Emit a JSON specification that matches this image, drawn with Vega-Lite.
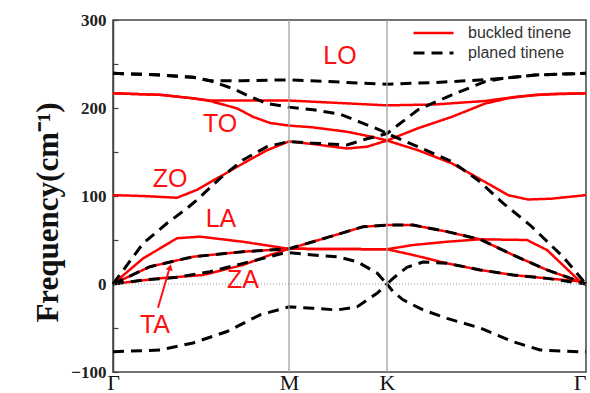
{
  "$schema": "https://vega.github.io/schema/vega-lite/v6.json",
  "width": 473,
  "height": 352,
  "autosize": {"type": "none"},
  "padding": {"left": 113, "top": 20, "right": 4, "bottom": 21},
  "background": "white",
  "config": {
    "view": {"stroke": "#444", "strokeWidth": 1.5},
    "axis": {"grid": false}
  },
  "layer": [
    {
      "data": {"values": [
        {"s":"buckled tinene","b":"B1","x":0,"f":216.7},{"s":"buckled tinene","b":"B1","x":47,"f":215},{"s":"buckled tinene","b":"B1","x":80,"f":211},{"s":"buckled tinene","b":"B1","x":97,"f":208.5},{"s":"buckled tinene","b":"B1","x":176,"f":208.5},{"s":"buckled tinene","b":"B1","x":274,"f":203},{"s":"buckled tinene","b":"B1","x":322,"f":204},{"s":"buckled tinene","b":"B1","x":372,"f":208},{"s":"buckled tinene","b":"B1","x":405,"f":213},{"s":"buckled tinene","b":"B1","x":439,"f":216},{"s":"buckled tinene","b":"B1","x":473,"f":216.7},
        {"s":"buckled tinene","b":"B2","x":0,"f":216.7},{"s":"buckled tinene","b":"B2","x":47,"f":215},{"s":"buckled tinene","b":"B2","x":80,"f":211},{"s":"buckled tinene","b":"B2","x":97,"f":208},{"s":"buckled tinene","b":"B2","x":124,"f":199.6},{"s":"buckled tinene","b":"B2","x":140,"f":190},{"s":"buckled tinene","b":"B2","x":157,"f":183},{"s":"buckled tinene","b":"B2","x":176,"f":180},{"s":"buckled tinene","b":"B2","x":200,"f":178},{"s":"buckled tinene","b":"B2","x":234,"f":173},{"s":"buckled tinene","b":"B2","x":260,"f":167},{"s":"buckled tinene","b":"B2","x":274,"f":163},{"s":"buckled tinene","b":"B2","x":305,"f":177},{"s":"buckled tinene","b":"B2","x":339,"f":190},{"s":"buckled tinene","b":"B2","x":372,"f":205},{"s":"buckled tinene","b":"B2","x":395,"f":211},{"s":"buckled tinene","b":"B2","x":422,"f":215},{"s":"buckled tinene","b":"B2","x":473,"f":216.7},
        {"s":"buckled tinene","b":"B3","x":0,"f":101},{"s":"buckled tinene","b":"B3","x":30,"f":100},{"s":"buckled tinene","b":"B3","x":64,"f":98},{"s":"buckled tinene","b":"B3","x":84,"f":107},{"s":"buckled tinene","b":"B3","x":104,"f":120},{"s":"buckled tinene","b":"B3","x":130,"f":137},{"s":"buckled tinene","b":"B3","x":154,"f":152},{"s":"buckled tinene","b":"B3","x":176,"f":162},{"s":"buckled tinene","b":"B3","x":200,"f":159},{"s":"buckled tinene","b":"B3","x":234,"f":154},{"s":"buckled tinene","b":"B3","x":254,"f":156},{"s":"buckled tinene","b":"B3","x":274,"f":163},{"s":"buckled tinene","b":"B3","x":305,"f":152},{"s":"buckled tinene","b":"B3","x":339,"f":137},{"s":"buckled tinene","b":"B3","x":372,"f":116},{"s":"buckled tinene","b":"B3","x":395,"f":101},{"s":"buckled tinene","b":"B3","x":415,"f":96},{"s":"buckled tinene","b":"B3","x":439,"f":97},{"s":"buckled tinene","b":"B3","x":473,"f":101},
        {"s":"buckled tinene","b":"B4","x":0,"f":0},{"s":"buckled tinene","b":"B4","x":30,"f":29},{"s":"buckled tinene","b":"B4","x":64,"f":52},{"s":"buckled tinene","b":"B4","x":87,"f":53.8},{"s":"buckled tinene","b":"B4","x":130,"f":48},{"s":"buckled tinene","b":"B4","x":176,"f":40},{"s":"buckled tinene","b":"B4","x":217,"f":53.8},{"s":"buckled tinene","b":"B4","x":250,"f":65},{"s":"buckled tinene","b":"B4","x":274,"f":67},{"s":"buckled tinene","b":"B4","x":300,"f":67},{"s":"buckled tinene","b":"B4","x":334,"f":59.5},{"s":"buckled tinene","b":"B4","x":367,"f":50.8},{"s":"buckled tinene","b":"B4","x":400,"f":33},{"s":"buckled tinene","b":"B4","x":434,"f":16},{"s":"buckled tinene","b":"B4","x":467,"f":2.6},{"s":"buckled tinene","b":"B4","x":473,"f":0},
        {"s":"buckled tinene","b":"B5","x":0,"f":0},{"s":"buckled tinene","b":"B5","x":37,"f":19.7},{"s":"buckled tinene","b":"B5","x":80,"f":31},{"s":"buckled tinene","b":"B5","x":130,"f":36.7},{"s":"buckled tinene","b":"B5","x":176,"f":40},{"s":"buckled tinene","b":"B5","x":274,"f":39.5},{"s":"buckled tinene","b":"B5","x":300,"f":44.3},{"s":"buckled tinene","b":"B5","x":334,"f":48},{"s":"buckled tinene","b":"B5","x":367,"f":50.8},{"s":"buckled tinene","b":"B5","x":414,"f":50},{"s":"buckled tinene","b":"B5","x":434,"f":38.6},{"s":"buckled tinene","b":"B5","x":467,"f":3},{"s":"buckled tinene","b":"B5","x":473,"f":0},
        {"s":"buckled tinene","b":"B6","x":0,"f":0},{"s":"buckled tinene","b":"B6","x":47,"f":6.5},{"s":"buckled tinene","b":"B6","x":90,"f":10.2},{"s":"buckled tinene","b":"B6","x":130,"f":21.6},{"s":"buckled tinene","b":"B6","x":157,"f":33},{"s":"buckled tinene","b":"B6","x":176,"f":40},{"s":"buckled tinene","b":"B6","x":274,"f":39.5},{"s":"buckled tinene","b":"B6","x":300,"f":33},{"s":"buckled tinene","b":"B6","x":334,"f":23.5},{"s":"buckled tinene","b":"B6","x":367,"f":16},{"s":"buckled tinene","b":"B6","x":400,"f":10.2},{"s":"buckled tinene","b":"B6","x":434,"f":6.4},{"s":"buckled tinene","b":"B6","x":467,"f":3},{"s":"buckled tinene","b":"B6","x":473,"f":0},
        {"s":"planed tinene","b":"P1","x":0,"f":239.4},{"s":"planed tinene","b":"P1","x":47,"f":237.5},{"s":"planed tinene","b":"P1","x":80,"f":235},{"s":"planed tinene","b":"P1","x":97,"f":231},{"s":"planed tinene","b":"P1","x":130,"f":231},{"s":"planed tinene","b":"P1","x":176,"f":232},{"s":"planed tinene","b":"P1","x":274,"f":227},{"s":"planed tinene","b":"P1","x":322,"f":229},{"s":"planed tinene","b":"P1","x":355,"f":231},{"s":"planed tinene","b":"P1","x":389,"f":233.6},{"s":"planed tinene","b":"P1","x":422,"f":237.5},{"s":"planed tinene","b":"P1","x":473,"f":239.4},
        {"s":"planed tinene","b":"P2","x":0,"f":239.4},{"s":"planed tinene","b":"P2","x":47,"f":237.5},{"s":"planed tinene","b":"P2","x":80,"f":235},{"s":"planed tinene","b":"P2","x":97,"f":231},{"s":"planed tinene","b":"P2","x":120,"f":222},{"s":"planed tinene","b":"P2","x":137,"f":213},{"s":"planed tinene","b":"P2","x":154,"f":205},{"s":"planed tinene","b":"P2","x":176,"f":201},{"s":"planed tinene","b":"P2","x":200,"f":198},{"s":"planed tinene","b":"P2","x":227,"f":193},{"s":"planed tinene","b":"P2","x":247,"f":184},{"s":"planed tinene","b":"P2","x":267,"f":175},{"s":"planed tinene","b":"P2","x":274,"f":171},{"s":"planed tinene","b":"P2","x":305,"f":156},{"s":"planed tinene","b":"P2","x":339,"f":139},{"s":"planed tinene","b":"P2","x":365,"f":118},{"s":"planed tinene","b":"P2","x":390,"f":92},{"s":"planed tinene","b":"P2","x":417,"f":67},{"s":"planed tinene","b":"P2","x":450,"f":31},{"s":"planed tinene","b":"P2","x":473,"f":0},
        {"s":"planed tinene","b":"P3","x":0,"f":0},{"s":"planed tinene","b":"P3","x":30,"f":46},{"s":"planed tinene","b":"P3","x":54,"f":69},{"s":"planed tinene","b":"P3","x":74,"f":86},{"s":"planed tinene","b":"P3","x":84,"f":95.5},{"s":"planed tinene","b":"P3","x":107,"f":120},{"s":"planed tinene","b":"P3","x":130,"f":141},{"s":"planed tinene","b":"P3","x":154,"f":156},{"s":"planed tinene","b":"P3","x":176,"f":162},{"s":"planed tinene","b":"P3","x":200,"f":160},{"s":"planed tinene","b":"P3","x":234,"f":158},{"s":"planed tinene","b":"P3","x":254,"f":165},{"s":"planed tinene","b":"P3","x":274,"f":171},{"s":"planed tinene","b":"P3","x":305,"f":198},{"s":"planed tinene","b":"P3","x":339,"f":215},{"s":"planed tinene","b":"P3","x":372,"f":230},{"s":"planed tinene","b":"P3","x":389,"f":233.6},{"s":"planed tinene","b":"P3","x":422,"f":237.5},{"s":"planed tinene","b":"P3","x":473,"f":239.4},
        {"s":"planed tinene","b":"P4","x":0,"f":0},{"s":"planed tinene","b":"P4","x":37,"f":19.7},{"s":"planed tinene","b":"P4","x":80,"f":31},{"s":"planed tinene","b":"P4","x":130,"f":36.7},{"s":"planed tinene","b":"P4","x":176,"f":40},{"s":"planed tinene","b":"P4","x":217,"f":53.8},{"s":"planed tinene","b":"P4","x":250,"f":65},{"s":"planed tinene","b":"P4","x":274,"f":67},{"s":"planed tinene","b":"P4","x":300,"f":67},{"s":"planed tinene","b":"P4","x":334,"f":59.5},{"s":"planed tinene","b":"P4","x":367,"f":50.8},{"s":"planed tinene","b":"P4","x":400,"f":33},{"s":"planed tinene","b":"P4","x":434,"f":16},{"s":"planed tinene","b":"P4","x":467,"f":2.6},{"s":"planed tinene","b":"P4","x":473,"f":0},
        {"s":"planed tinene","b":"P5","x":0,"f":0},{"s":"planed tinene","b":"P5","x":30,"f":4.5},{"s":"planed tinene","b":"P5","x":64,"f":7.6},{"s":"planed tinene","b":"P5","x":97,"f":14},{"s":"planed tinene","b":"P5","x":137,"f":25.4},{"s":"planed tinene","b":"P5","x":170,"f":35},{"s":"planed tinene","b":"P5","x":176,"f":35.5},{"s":"planed tinene","b":"P5","x":200,"f":33},{"s":"planed tinene","b":"P5","x":224,"f":31},{"s":"planed tinene","b":"P5","x":244,"f":25.4},{"s":"planed tinene","b":"P5","x":264,"f":12.5},{"s":"planed tinene","b":"P5","x":274,"f":0},{"s":"planed tinene","b":"P5","x":280,"f":6.4},{"s":"planed tinene","b":"P5","x":294,"f":19},{"s":"planed tinene","b":"P5","x":310,"f":25},{"s":"planed tinene","b":"P5","x":334,"f":23.5},{"s":"planed tinene","b":"P5","x":367,"f":16},{"s":"planed tinene","b":"P5","x":400,"f":10.2},{"s":"planed tinene","b":"P5","x":434,"f":6.4},{"s":"planed tinene","b":"P5","x":473,"f":0},
        {"s":"planed tinene","b":"P6","x":0,"f":-77},{"s":"planed tinene","b":"P6","x":47,"f":-75},{"s":"planed tinene","b":"P6","x":80,"f":-67},{"s":"planed tinene","b":"P6","x":114,"f":-54},{"s":"planed tinene","b":"P6","x":147,"f":-35},{"s":"planed tinene","b":"P6","x":176,"f":-26},{"s":"planed tinene","b":"P6","x":200,"f":-27.6},{"s":"planed tinene","b":"P6","x":224,"f":-29.5},{"s":"planed tinene","b":"P6","x":244,"f":-26},{"s":"planed tinene","b":"P6","x":264,"f":-10.6},{"s":"planed tinene","b":"P6","x":274,"f":0},{"s":"planed tinene","b":"P6","x":280,"f":-8.7},{"s":"planed tinene","b":"P6","x":290,"f":-18},{"s":"planed tinene","b":"P6","x":310,"f":-29.5},{"s":"planed tinene","b":"P6","x":334,"f":-39},{"s":"planed tinene","b":"P6","x":367,"f":-50},{"s":"planed tinene","b":"P6","x":400,"f":-65.5},{"s":"planed tinene","b":"P6","x":427,"f":-75},{"s":"planed tinene","b":"P6","x":467,"f":-77},{"s":"planed tinene","b":"P6","x":473,"f":-77}
      ]},
      "mark": {"type": "line", "interpolate": "linear", "strokeCap": "butt"},
      "encoding": {
        "x": {
          "field": "x", "type": "quantitative",
          "scale": {"domain": [0, 473], "nice": false, "zero": false},
          "axis": {
            "title": null, "values": [0, 176, 274, 473],
            "labelExpr": "datum.value == 176 ? 'M' : (datum.value == 274 ? 'K' : 'Γ')",
            "labelFont": "Liberation Serif", "labelFontSize": 22, "labelColor": "#111",
            "labelAlign": {"condition": {"test": "datum.value == 473", "value": "right"}, "value": "center"},
            "labelFlush": false, "labelOverlap": false, "labelPadding": 0,
            "ticks": false, "domain": false, "grid": false
          }
        },
        "y": {
          "field": "f", "type": "quantitative",
          "scale": {"domain": [-100, 300], "nice": false, "zero": false},
          "axis": {
            "title": "Frequency(cm⁻¹)",
            "values": [-100, -50, 0, 50, 100, 150, 200, 250, 300],
            "labelExpr": "datum.value % 100 == 0 ? datum.label : ''",
            "labelFont": "Liberation Serif", "labelFontWeight": "bold", "labelFontSize": 17, "labelColor": "#222",
            "labelPadding": 12, "tickSize": -5, "tickColor": "#444", "tickWidth": 1.2,
            "domain": true, "domainColor": "#444", "domainWidth": 1.5, "grid": false,
            "titleFont": "Liberation Serif", "titleFontWeight": "bold", "titleFontSize": 31, "titleColor": "#111",
            "titleAngle": -90, "titleBaseline": "alphabetic", "titleAlign": "center", "titleX": -56, "titleY": 192
          }
        },
        "color": {
          "field": "s", "type": "nominal",
          "scale": {"domain": ["buckled tinene", "planed tinene"], "range": ["#ff0000", "#000000"]},
          "legend": {
            "title": null, "orient": "none", "legendX": 299, "legendY": 3, "padding": 0,
            "symbolType": "stroke", "symbolSize": 1600, "symbolStrokeWidth": 2.5, "clipHeight": 20,
            "labelFont": "Liberation Sans", "labelFontSize": 16, "labelColor": "#333", "labelOffset": 13,
            "rowPadding": 0
          }
        },
        "strokeDash": {
          "field": "s", "type": "nominal",
          "scale": {"domain": ["buckled tinene", "planed tinene"], "range": [[1, 0], [11, 7]]}
        },
        "strokeWidth": {
          "field": "s", "type": "nominal",
          "scale": {"domain": ["buckled tinene", "planed tinene"], "range": [2.5, 3]},
          "legend": null
        },
        "detail": {"field": "b"}
      }
    },
    {
      "data": {"values": [{"x": 176}, {"x": 274}]},
      "mark": {"type": "rule", "color": "#a0a0a0", "strokeWidth": 1.3},
      "encoding": {"x": {"field": "x", "type": "quantitative"}}
    },
    {
      "data": {"values": [{"f": 0}]},
      "mark": {"type": "rule", "color": "#999999", "strokeWidth": 1, "strokeDash": [1, 2]},
      "encoding": {"y": {"field": "f", "type": "quantitative"}}
    },
    {
      "data": {"values": [
        {"t": "LO", "x": 227, "f": 259},
        {"t": "TO", "x": 107, "f": 182},
        {"t": "ZO", "x": 57, "f": 119},
        {"t": "LA", "x": 108, "f": 74},
        {"t": "ZA", "x": 130, "f": 4.5},
        {"t": "TA", "x": 42, "f": -47}
      ]},
      "mark": {"type": "text", "font": "Liberation Sans", "fontSize": 25, "color": "#ff1010", "align": "center", "baseline": "middle"},
      "encoding": {
        "x": {"field": "x", "type": "quantitative"},
        "y": {"field": "f", "type": "quantitative"},
        "text": {"field": "t"}
      }
    },
    {
      "data": {"values": [{"x": 45, "f": -27}, {"x": 56, "f": 16}]},
      "mark": {"type": "line", "color": "#ff1010", "strokeWidth": 2},
      "encoding": {
        "x": {"field": "x", "type": "quantitative"},
        "y": {"field": "f", "type": "quantitative"}
      }
    },
    {
      "data": {"values": [{"x": 57, "f": 19}]},
      "mark": {"type": "point", "shape": "triangle-up", "filled": true, "size": 50, "angle": 15, "color": "#ff1010", "opacity": 1},
      "encoding": {
        "x": {"field": "x", "type": "quantitative"},
        "y": {"field": "f", "type": "quantitative"}
      }
    }
  ]
}
